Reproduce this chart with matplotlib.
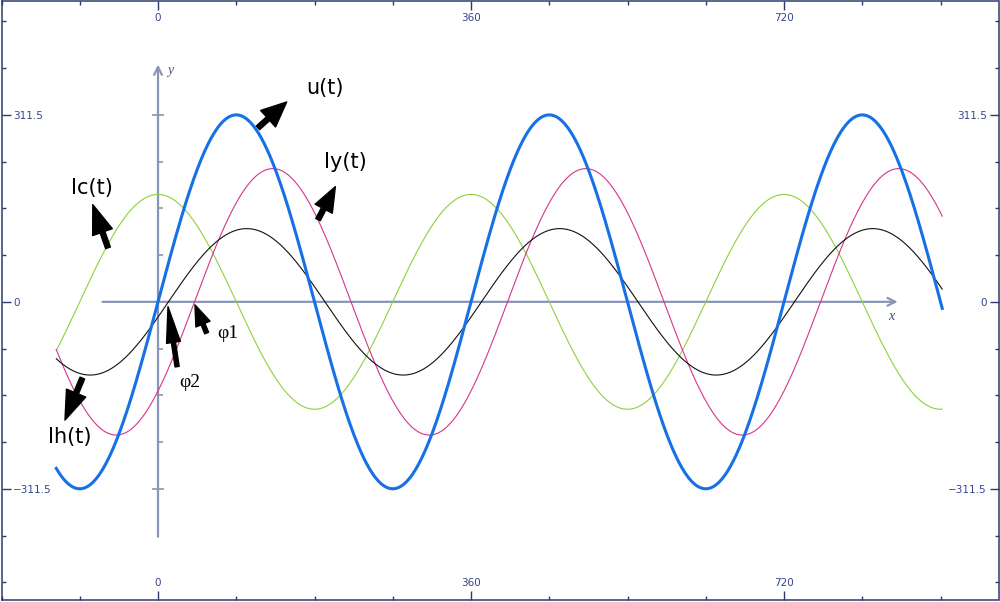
import numpy as np
import matplotlib
matplotlib.use("Agg")
import matplotlib.pyplot as plt

# ---- data ----
series_names = ["Ic(t)", "Iy(t)", "Ih(t)", "u(t)"]
amplitudes = [179.0, 222.0, 122.0, 311.5]
phases_deg = [90.0, -42.0, -12.0, 0.0]
colors = ["#8fd13a", "#d6338e", "#111111", "#1670e6"]
widths = [0.8, 0.8, 0.8, 2.2]
x_start, x_end = -117.0, 902.0

x_major = [0, 360, 720]
x_labels = ["0", "360", "720"]
y_major = [-311.5, 0, 311.5]
y_labels = ["\u2212311.5", "0", "311.5"]

# annotation arrows: (label, label_xy, tail_xy, tip_xy)
labels = ["u(t)", "Iy(t)", "Ic(t)", "Ih(t)"]
label_pos = [(192, 356), (216, 233), (-76, 190), (-101, -226)]
arrow_tail = [(115, 290), (184, 137), (-57.5, 90), (-87, -127)]
arrow_tip = [(148, 333), (204, 192), (-75, 162), (-107, -197)]
head_len = [18, 18, 21, 21]
head_wid = [16, 14, 15, 15]

phi_labels = ["\u03c61", "\u03c62"]
phi_label_pos = [(80, -52), (37, -135)]
phi_tail = [(56, -52), (22, -108)]
phi_tip = [(42.5, -5), (11.5, -8)]
phi_head_len = [15, 26]
phi_head_wid = [11, 10]

frame_col = "#2b3a6b"
tick_col = "#34448a"
axis_col = "#8a94b8"

fig = plt.figure(figsize=(10, 6.02), dpi=100)
ax = fig.add_axes([0.0015, 0.00415, 0.997, 0.9934])
ax.set_xlim(-180, 966.7)
ax.set_ylim(-496, 500.5)

# inner coordinate axes
ax.annotate("", xy=(854, 0), xytext=(-67, 0),
            arrowprops=dict(arrowstyle="->", color=axis_col, lw=1.6, mutation_scale=14),
            zorder=1)
ax.annotate("", xy=(0, 400), xytext=(0, -396),
            arrowprops=dict(arrowstyle="->", color=axis_col, lw=1.6, mutation_scale=14),
            zorder=1)
ax.text(10, 385, "y", fontsize=10, style="italic", family="Liberation Serif",
        color="#555a78", ha="left", va="center")
ax.text(843, -24, "x", fontsize=10, style="italic", family="Liberation Serif",
        color="#3a4a8a", ha="center", va="center")
inner_minor = [k * 77.875 for k in (-3, -2, -1, 1, 2, 3)]
ax.plot([0] * len(inner_minor), inner_minor, ls="none", marker=1, ms=3.5,
        mew=1.2, color=axis_col, zorder=1)
ax.plot([0, 0], [-311.5, 311.5], ls="none", marker="_", ms=8, mew=1.2,
        color=axis_col, zorder=1)

# curves
x = np.linspace(x_start, x_end, 2000)
for name, a, ph, c, w in zip(series_names, amplitudes, phases_deg, colors, widths):
    ax.plot(x, a * np.sin(np.radians(x + ph)), color=c, lw=w, zorder=3)

# labels and arrows
for lab, lp, tl, tp, hl, hw in zip(labels, label_pos, arrow_tail, arrow_tip,
                                   head_len, head_wid):
    ax.annotate("", xy=tp, xytext=tl, zorder=5,
                arrowprops=dict(facecolor="black", edgecolor="black", width=3.6,
                                headwidth=hw, headlength=hl, shrink=0))
    ax.text(lp[0], lp[1], lab, fontsize=15, family="DejaVu Sans",
            ha="center", va="center", zorder=5)
for lab, lp, tl, tp, hl, hw in zip(phi_labels, phi_label_pos, phi_tail, phi_tip,
                                   phi_head_len, phi_head_wid):
    ax.annotate("", xy=tp, xytext=tl, zorder=5,
                arrowprops=dict(facecolor="black", edgecolor="black", width=3.0,
                                headwidth=hw, headlength=hl, shrink=0))
    ax.text(lp[0], lp[1], lab, fontsize=14, family="Liberation Serif",
            ha="center", va="center", zorder=5)

# frame ticks
ax.set_xticks(x_major)
ax.set_xticklabels(x_labels)
ax.set_xticks(np.arange(-180, 967, 90), minor=True)
ax.set_yticks(y_major)
ax.set_yticklabels(y_labels)
ax.set_yticks(np.arange(-6, 7) * 77.875, minor=True)
for s in ax.spines.values():
    s.set_color(frame_col)
    s.set_linewidth(1.1)
ax.tick_params(which="both", direction="in", top=True, bottom=True, left=True,
               right=True, labeltop=True, labelbottom=True, labelleft=True,
               labelright=True, color=frame_col, width=1.0, labelsize=7.5,
               labelcolor=tick_col)
ax.tick_params(which="major", length=6.5, pad=-8.5)
ax.tick_params(which="minor", length=2.8)
for t in ax.xaxis.get_major_ticks():
    t.label1.set_va("bottom")
    t.label2.set_va("top")
for t in ax.yaxis.get_major_ticks():
    t.label1.set_ha("left")
    t.label2.set_ha("right")

fig.savefig("out.png", dpi=100, facecolor="white")
